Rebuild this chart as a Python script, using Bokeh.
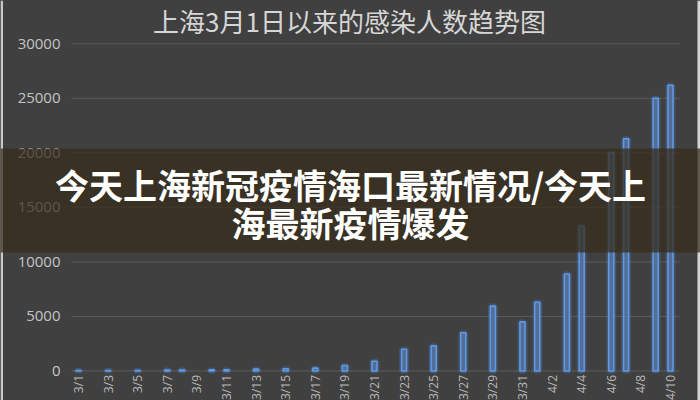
import math
from bokeh.plotting import figure
from bokeh.models import (Range1d, FixedTicker, BoxAnnotation, Label,
                          GlobalInlineStyleSheet, ColumnDataSource)
from bokeh.embed import file_html
from bokeh.resources import INLINE

# ---------------- data ----------------
chart_title = "上海3月1日以来的感染人数趋势图"
overlay_lines = ["今天上海新冠疫情海口最新情况/今天上", "海最新疫情爆发"]

tick_labels = ["3/1", "3/3", "3/5", "3/7", "3/9", "3/11", "3/13", "3/15", "3/17",
               "3/19", "3/21", "3/23", "3/25", "3/27", "3/29", "3/31", "4/2",
               "4/4", "4/6", "4/8", "4/10"]

bar_dates = ["3/1", "3/3", "3/5", "3/7", "3/8", "3/10", "3/11", "3/13", "3/15",
             "3/17", "3/19", "3/21", "3/23", "3/25", "3/27", "3/29", "3/31",
             "4/1", "4/3", "4/4", "4/6", "4/7", "4/9", "4/10"]
bar_values = [50, 50, 50, 80, 80, 100, 100, 170, 200,
              260, 500, 900, 2000, 2300, 3500, 5950, 4500,
              6300, 8900, 13300, 20000, 21300, 25000, 26200]

y_ticks = [0, 5000, 10000, 15000, 20000, 25000, 30000]


def day_index(s):
    m, d = s.split("/")
    return (int(d) - 1) if m == "3" else (31 + int(d) - 1)


bar_x = [day_index(s) for s in bar_dates]
tick_x = [day_index(s) for s in tick_labels]

src = ColumnDataSource(dict(x=bar_x, top=bar_values, date=bar_dates))

BG = "#404040"
W, H = 700, 400

# plotting area edges (data units) used for the axis position and grid extent
X_LEFT, X_RIGHT = -0.47, 40.6

p = figure(width=W, height=H, output_backend="svg", toolbar_location=None,
           x_range=Range1d(-5.27, 42.03), y_range=Range1d(-2705, 33969),
           min_border_left=0, min_border_right=0, min_border_top=0,
           min_border_bottom=0)
p.stylesheets = [GlobalInlineStyleSheet(
    css="html,body{margin:0;padding:0;background:#404040;overflow:hidden;}")]

p.background_fill_color = BG
p.border_fill_color = BG
p.outline_line_color = None
p.xgrid.visible = False
p.ygrid.visible = False

# horizontal grid lines limited to the plotting area
p.segment(x0=X_LEFT, x1=X_RIGHT, y0=y_ticks, y1=y_ticks,
          line_color="#5a5a5a", line_width=1)

# y axis (drawn inside the canvas at the left edge of the plotting area)
p.yaxis.fixed_location = X_LEFT
p.yaxis.ticker = FixedTicker(ticks=y_ticks)
p.yaxis.axis_line_color = None
p.yaxis.major_tick_line_color = None
p.yaxis.minor_tick_line_color = None
p.yaxis.major_tick_out = 0
p.yaxis.major_label_standoff = 11
p.yaxis.major_label_text_color = "#c4c4c4"
p.yaxis.major_label_text_font = "Open Sans"
p.yaxis.major_label_text_font_size = "15px"

# x axis
p.xaxis.fixed_location = 0
p.xaxis.ticker = FixedTicker(ticks=tick_x)
p.xaxis.major_label_overrides = {tx: lab for tx, lab in zip(tick_x, tick_labels)}
p.xaxis.major_label_orientation = math.pi / 2
p.xaxis.axis_line_color = None
p.xaxis.major_tick_line_color = None
p.xaxis.minor_tick_line_color = None
p.xaxis.major_tick_out = 0
p.xaxis.major_label_standoff = 4
p.xaxis.major_label_text_color = "#b8b8b8"
p.xaxis.major_label_text_font = "Open Sans"
p.xaxis.major_label_text_font_size = "12px"

# bars: glow + bar
p.vbar(x="x", top="top", bottom=0, width=0.34, source=src,
       fill_color=None, line_color="#4f8fe6", line_alpha=0.25, line_width=5)
p.vbar(x="x", top="top", bottom=0, width=0.34, source=src,
       fill_color="#55709a", fill_alpha=0.9, line_color="#5f98e4", line_width=1.6)

# side strips of the screenshot
p.add_layout(BoxAnnotation(left=0, right=2.5, top=0, bottom=H,
                           left_units="canvas", right_units="canvas",
                           top_units="canvas", bottom_units="canvas",
                           fill_color="#c8c8c8", fill_alpha=1, line_color=None))
p.add_layout(BoxAnnotation(left=697, right=W, top=0, bottom=H,
                           left_units="canvas", right_units="canvas",
                           top_units="canvas", bottom_units="canvas",
                           fill_color="#d4d4d4", fill_alpha=1, line_color=None))

# chart title
p.add_layout(Label(x=349, y=1, x_units="canvas", y_units="canvas",
                   text=chart_title, text_align="center", text_baseline="top",
                   text_font="Noto Sans CJK SC", text_font_size="26px",
                   text_color="#d6d6d6"))

# overlay band
p.add_layout(BoxAnnotation(left=0, right=W, top=148, bottom=252,
                           left_units="canvas", right_units="canvas",
                           top_units="canvas", bottom_units="canvas",
                           fill_color="#372c1b", fill_alpha=0.74, line_color=None))

for i, line in enumerate(overlay_lines):
    p.add_layout(Label(x=350, y=184 + 38 * i, x_units="canvas", y_units="canvas",
                       text=line, text_align="center", text_baseline="middle",
                       text_font="Noto Sans CJK SC", text_font_style="bold",
                       text_font_size="34px", text_color="#ffffff"))

open("out.html", "w").write(file_html(p, INLINE))
